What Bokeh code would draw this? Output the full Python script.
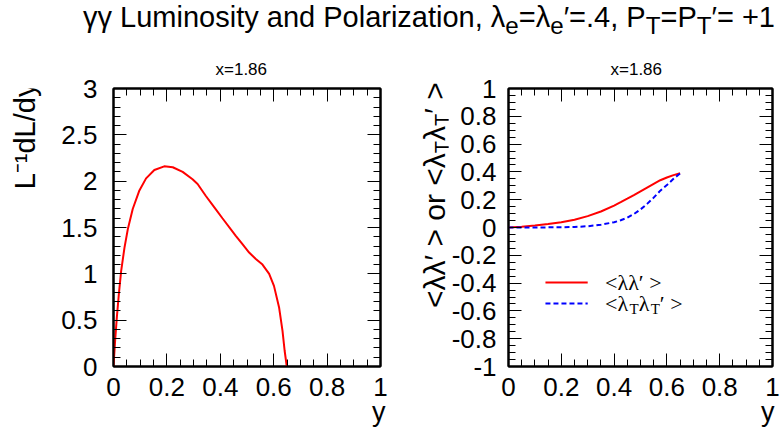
import numpy as np
from bokeh.plotting import figure
from bokeh.models import Div, LinearAxis, FixedTicker, Label, Arrow, Range1d, Title
from bokeh.layouts import column, row
from bokeh.embed import file_html
from bokeh.resources import INLINE

# ---------------- data ----------------
lum_y = [0, 0.006, 0.0125, 0.02, 0.0286, 0.041, 0.0535, 0.072, 0.097, 0.122, 0.153,
         0.19, 0.222, 0.259, 0.296, 0.315, 0.346, 0.377, 0.408, 0.458, 0.483,
         0.508, 0.533, 0.558, 0.583, 0.601, 0.62, 0.633, 0.641, 0.649]
lum_val = [0, 0.277, 0.53, 0.78, 1.03, 1.28, 1.48, 1.70, 1.90, 2.03, 2.12,
           2.16, 2.15, 2.10, 2.02, 1.97, 1.84, 1.72, 1.60, 1.41, 1.32,
           1.23, 1.16, 1.10, 1.0, 0.87, 0.64, 0.385, 0.17, 0]

pol_y = [0, 0.05, 0.1, 0.15, 0.2, 0.25, 0.3, 0.35, 0.4, 0.425, 0.45, 0.475, 0.5,
         0.525, 0.55, 0.575, 0.6, 0.625, 0.65]
pol_ll = [0, 0.005, 0.014, 0.025, 0.038, 0.056, 0.082, 0.115, 0.158, 0.182, 0.207,
          0.233, 0.26, 0.287, 0.314, 0.34, 0.36, 0.377, 0.39]
polT_y = [0, 0.1, 0.2, 0.25, 0.3, 0.35, 0.4, 0.425, 0.45, 0.475, 0.5, 0.525, 0.55,
          0.575, 0.6, 0.625, 0.65]
pol_TT = [0, 0, 0.002, 0.004, 0.009, 0.02, 0.038, 0.052, 0.07, 0.097, 0.13, 0.17,
          0.215, 0.265, 0.305, 0.35, 0.39]

x_ticks = [0, 0.2, 0.4, 0.6, 0.8, 1]
x_tick_labels = ["0", "0.2", "0.4", "0.6", "0.8", "1"]
lum_ticks = [0, 0.5, 1, 1.5, 2, 2.5, 3]
lum_tick_labels = ["0", "0.5", "1", "1.5", "2", "2.5", "3"]
pol_ticks = [-1, -0.8, -0.6, -0.4, -0.2, 0, 0.2, 0.4, 0.6, 0.8, 1]
pol_tick_labels = ["-1", "-0.8", "-0.6", "-0.4", "-0.2", "0", "0.2", "0.4", "0.6", "0.8", "1"]

subtitle = "x=1.86"
x_label = "y"
lum_label = "L\u207b\u00b9dL/dy"
legend_ll = "<\u03bb\u03bb\u2032 >"

SANS = "Liberation Sans"
SERIF = "Liberation Serif"
TICK_FS = "26px"
LABEL_FS = 30

# layout constants (page pixels)
TITLE_H = 36
ROW_TOP = 46
ROW_H = 386
FRAME_TOP = 42
FRAME_H = 278
W_PL, W_P1, W_PM, W_P2 = 56, 364, 28, 332


def minor(lo, hi, step):
    n = int(round((hi - lo) / step))
    return [round(lo + i * step, 6) for i in range(n + 1)]


def style_axis(ax, ticks, labels, minors, show, standoff=12):
    ax.ticker = FixedTicker(ticks=ticks, minor_ticks=minors)
    ax.major_label_overrides = {t: l for t, l in zip(ticks, labels)}
    ax.major_tick_in = 13
    ax.major_tick_out = 0
    ax.minor_tick_in = 7
    ax.minor_tick_out = 0
    ax.major_tick_line_color = "black"
    ax.minor_tick_line_color = "black"
    ax.major_tick_line_width = 1
    ax.minor_tick_line_width = 1
    ax.axis_line_color = "black"
    ax.axis_line_width = 2
    if show:
        ax.major_label_text_font = SANS
        ax.major_label_text_font_size = TICK_FS
        ax.major_label_text_color = "black"
        ax.major_label_standoff = standoff
    else:
        ax.major_label_text_font_size = "1px"
        ax.major_label_text_color = None
        ax.major_label_standoff = 0


def make_fig(width, yr, yticks, ylabels, yminor, bl, br, ystand, ylab_off):
    p = figure(width=width, height=ROW_H, x_range=Range1d(0, 1), y_range=Range1d(*yr),
               output_backend="svg", toolbar_location=None,
               x_axis_location=None, y_axis_location=None,
               min_border_left=bl, min_border_right=br, min_border_top=FRAME_TOP,
               min_border_bottom=ROW_H - FRAME_TOP - FRAME_H, title=subtitle)
    p.grid.visible = False
    p.outline_line_color = "black"
    p.outline_line_width = 2
    p.background_fill_color = "white"
    p.border_fill_color = "white"
    p.title.align = "left"
    p.title.offset = 102
    p.title.text_font = SANS
    p.title.text_font_size = "17px"
    p.title.text_font_style = "normal"
    p.title.text_color = "black"
    p.title.standoff = 19
    bottom, top, left, right = LinearAxis(), LinearAxis(), LinearAxis(), LinearAxis()
    p.add_layout(bottom, "below")
    p.add_layout(top, "above")
    p.add_layout(left, "left")
    p.add_layout(right, "right")
    xm = minor(0, 1, 0.05)
    style_axis(bottom, x_ticks, x_tick_labels, xm, True, 11)
    style_axis(top, x_ticks, x_tick_labels, xm, False)
    style_axis(left, yticks, ylabels, yminor, True, ystand)
    style_axis(right, yticks, ylabels, yminor, False)
    # x-axis label "y" at the right end, below the tick labels
    p.add_layout(Title(text=x_label, align="right", text_font=SANS, text_font_size="27px",
                       text_font_style="normal", text_color="black", standoff=-8,
                       offset=ylab_off),
                 "below")
    return p


# ---------------- left panel ----------------
p1 = make_fig(W_P1, (0, 3), lum_ticks, lum_tick_labels, minor(0, 3, 0.1), 57, 40, 16, -5)
p1.line(lum_y, lum_val, line_color="red", line_width=2)

# ---------------- right panel ----------------
p2 = make_fig(W_P2, (-1, 1), pol_ticks, pol_tick_labels, minor(-1, 1, 0.05), 59, 8, 12, -2)
p2.line(pol_y, pol_ll, line_color="red", line_width=2)
p2.line(polT_y, pol_TT, line_color="blue", line_width=2, line_dash="5 3")

PX_Y = 2.0 / FRAME_H   # data units per pixel (vertical), right panel
PX_X = 1.0 / 265.0     # data units per pixel (horizontal), right panel

# legend
leg_x0, leg_x1, leg_tx = 0.14, 0.30, 0.366
leg_y1, leg_y2 = -0.396, -0.547
p2.add_layout(Arrow(end=None, x_start=leg_x0, y_start=leg_y1, x_end=leg_x1, y_end=leg_y1,
                    line_color="red", line_width=2))
p2.add_layout(Arrow(end=None, x_start=leg_x0, y_start=leg_y2, x_end=leg_x1, y_end=leg_y2,
                    line_color="blue", line_width=2, line_dash="5 3"))
LEG_FS = 22
p2.add_layout(Label(x=leg_tx, y=leg_y1, text=legend_ll, text_align="left",
                    text_baseline="middle", text_font=SERIF, text_font_size=f"{LEG_FS}px",
                    text_color="black"))
sem = {"<": 0.564, ">": 0.564, " ": 0.25, "\u03bb": 0.55, "\u2032": 0.2, "T": 0.611}
lx = leg_tx
for txt, sub in [("<\u03bb", False), ("T", True), ("\u03bb", False), ("T", True), ("\u2032 >", False)]:
    size = 15 if sub else LEG_FS
    p2.add_layout(Label(x=lx, y=leg_y2 - (5 * PX_Y if sub else 0), text=txt, text_align="left",
                        text_baseline="middle", text_font=SERIF, text_font_size=f"{size}px",
                        text_color="black"))
    lx += sum(sem.get(c, 0.5) for c in txt) * size * PX_X


# ---------------- y-label for the left panel ----------------
def strip(width, height):
    s = figure(width=width, height=height, x_range=Range1d(0, width), y_range=Range1d(0, height),
               output_backend="svg", toolbar_location=None,
               x_axis_location=None, y_axis_location=None, min_border=0)
    s.grid.visible = False
    s.outline_line_color = None
    s.background_fill_color = "white"
    s.border_fill_color = "white"
    return s


pl = strip(W_PL, ROW_H)
pl.add_layout(Label(x=24, y=ROW_TOP + 4 + ROW_H - 190, text=lum_label, angle=np.pi / 2,
                    text_align="left", text_baseline="middle",
                    text_font=SANS, text_font_size=f"{LABEL_FS - 1}px", text_color="black"))

# ---------------- y-label for the right panel (vertical text with subscripts) ----------------
pm = Div(text=('<div style="writing-mode: vertical-rl; transform: rotate(180deg); '
               f'font-family: {SANS}; font-size: {LABEL_FS}px; line-height: {LABEL_FS}px; '
               'white-space: nowrap; margin-top: 36px; width: 26px; height: 226px; '
               'overflow: visible; color: black;">'
               '&lt;\u03bb\u03bb\u2032 &gt; or &lt;\u03bb<sub style="font-size:20px">T</sub>'
               '\u03bb<sub style="font-size:20px">T</sub>\u2032 &gt;</div>'),
         width=W_PM, height=ROW_H, margin=(0, 0, 0, 0), styles={"overflow": "visible"})

# ---------------- title ----------------
W_ALL = W_PL + W_P1 + W_PM + W_P2
title = Div(text="\u03b3\u03b3 Luminosity and Polarization, \u03bb<sub>e</sub>=\u03bb<sub>e</sub>\u2032=.4, "
                 "P<sub>T</sub>=P<sub>T</sub>\u2032= +1",
            width=W_ALL - 10, height=TITLE_H,
            styles={"font-family": SANS, "font-size": "29px", "text-align": "right",
                    "white-space": "nowrap", "padding-right": "0px", "color": "black",
                    "line-height": "24px"})

layout = column(title, row(pl, p1, pm, p2, spacing=0), spacing=0)
open("out.html", "w").write(file_html(layout, INLINE))
